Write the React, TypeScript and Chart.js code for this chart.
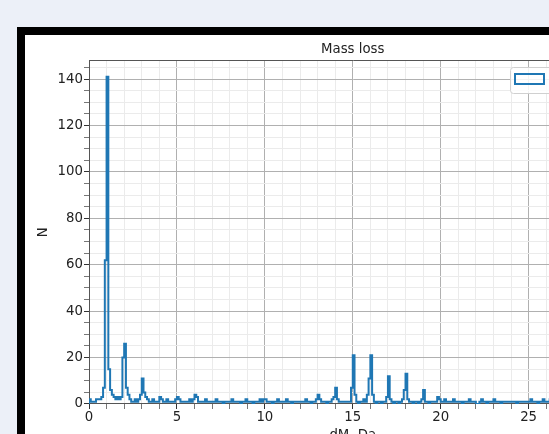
import React, { useEffect, useRef } from 'react';
import { Chart, registerables } from 'chart.js';

Chart.register(...registerables);

// ---- chart texts ----
const chartTitle = 'Mass loss';
const xTitle = 'dM, Da';
const yTitle = 'N';
const legendLabel = '';

// ---- histogram bins (0.1 Da wide, starting at 0) ----
const binStart = 0;
const binWidth = 0.1;

// counts per bin, grouped by 5 Da
const counts0to5 = [
  2, 1, 1, 1, 2, 2, 2, 3, 7, 62,
  141, 15, 6, 4, 3, 2, 3, 2, 3, 20,
  26, 7, 4, 2, 1, 1, 2, 1, 2, 4,
  11, 5, 3, 2, 1, 1, 2, 1, 1, 1,
  3, 2, 1, 1, 2, 1, 1, 1, 1, 2,
];
const counts5to10 = [
  3, 2, 1, 1, 1, 1, 1, 2, 1, 2,
  4, 3, 1, 1, 1, 1, 2, 1, 1, 1,
  1, 1, 2, 1, 1, 1, 0, 1, 1, 1,
  1, 2, 1, 1, 1, 1, 0, 1, 1, 2,
  1, 1, 1, 0, 1, 1, 1, 2, 1, 2,
];
const counts10to15 = [
  2, 1, 1, 1, 0, 1, 1, 2, 1, 1,
  1, 1, 2, 1, 1, 0, 1, 1, 1, 1,
  1, 1, 1, 2, 1, 1, 0, 1, 1, 2,
  4, 2, 1, 1, 1, 0, 1, 1, 2, 3,
  7, 2, 1, 1, 1, 1, 1, 1, 1, 7,
];
const counts15to20 = [
  21, 4, 1, 0, 1, 1, 2, 1, 4, 11,
  21, 4, 1, 0, 1, 1, 0, 1, 1, 3,
  12, 2, 1, 0, 1, 1, 0, 1, 2, 6,
  13, 2, 1, 1, 0, 1, 1, 0, 1, 2,
  6, 1, 1, 0, 1, 1, 1, 1, 3, 2,
];
const counts20to25 = [
  1, 1, 2, 1, 1, 1, 1, 2, 1, 1,
  1, 1, 0, 1, 1, 1, 2, 1, 1, 1,
  0, 0, 1, 2, 1, 1, 0, 1, 1, 1,
  2, 1, 1, 1, 0, 1, 1, 1, 1, 1,
  1, 1, 1, 0, 1, 1, 1, 1, 1, 1,
];
const counts25to27 = [
  1, 2, 1, 1, 1, 0, 1, 1, 2, 1,
  1, 1, 2, 1, 1, 1, 1, 1, 1, 1,
];

// ---- axes ----
const xMin = 0;
const xMax = 30;
const yMin = 0;
const yMax = 148.05;
const xMajorStep = 5;
const xMinorStep = 1;
const yMajorStep = 20;
const yMinorStep = 5;

const FONT = 'DejaVu Sans';
const FS = 13.3;
const LINE_COLOR = '#1f77b4';
const MAJOR_GRID = '#b0b0b0';
const MINOR_GRID = '#ebebeb';
const SPINE = '#555555';
const TEXT = '#222222';

const isMult = (v: number, step: number) => Math.abs(v / step - Math.round(v / step)) < 1e-6;

export default function App() {
  const ref = useRef<HTMLCanvasElement | null>(null);

  useEffect(() => {
    if (!ref.current) return;
    const counts = [
      ...counts0to5,
      ...counts5to10,
      ...counts10to15,
      ...counts15to20,
      ...counts20to25,
      ...counts25to27,
    ];
    const pts: { x: number; y: number }[] = [{ x: binStart, y: 0 }];
    counts.forEach((c, i) => pts.push({ x: +(binStart + i * binWidth).toFixed(3), y: c }));
    pts.push({ x: +(binStart + counts.length * binWidth).toFixed(3), y: 0 });

    const legendPlugin = {
      id: 'mplLegend',
      afterDatasetsDraw(chart: any) {
        const { ctx, chartArea } = chart;
        const ds = chart.data.datasets[0];
        const fw = 100;
        const fh = 26;
        const fx = Math.round(chartArea.right - 6.5 - fw) + 0.5;
        const fy = Math.round(chartArea.top + 7) + 0.5;
        ctx.save();
        ctx.beginPath();
        if ((ctx as any).roundRect) (ctx as any).roundRect(fx, fy, fw, fh, 3);
        else ctx.rect(fx, fy, fw, fh);
        ctx.fillStyle = 'rgba(255,255,255,0.85)';
        ctx.fill();
        ctx.strokeStyle = '#d0d0d0';
        ctx.lineWidth = 1;
        ctx.stroke();
        ctx.strokeStyle = ds.borderColor;
        ctx.lineWidth = 2;
        ctx.strokeRect(fx + 4.5, fy + 6.5, 29, 10);
        ctx.fillStyle = TEXT;
        ctx.font = `${FS}px "${FONT}"`;
        ctx.textBaseline = 'middle';
        ctx.fillText(legendLabel, fx + 44, fy + 11.5);
        ctx.restore();
      },
    };

    const chart = new Chart(ref.current, {
      type: 'line',
      data: {
        datasets: [
          {
            label: legendLabel,
            data: pts,
            stepped: true,
            borderColor: LINE_COLOR,
            backgroundColor: '#ffffff',
            borderWidth: 2,
            pointRadius: 0,
            fill: false,
            tension: 0,
          },
        ],
      },
      options: {
        responsive: false,
        maintainAspectRatio: false,
        animation: false,
        devicePixelRatio: 1,
        layout: { padding: 0 },
        plugins: {
          legend: { display: false },
          tooltip: { enabled: false },
          title: {
            display: true,
            text: chartTitle,
            fullSize: false,
            color: TEXT,
            font: { family: FONT, size: FS, weight: 'normal' },
            padding: { top: 7, bottom: 2.5 },
          },
        },
        scales: {
          x: {
            type: 'linear',
            min: xMin,
            max: xMax,
            afterBuildTicks: (s: any) => {
              const t = [];
              for (let v = xMin; v <= xMax + 1e-9; v += xMinorStep) t.push({ value: v });
              s.ticks = t;
            },
            afterFit: (s: any) => {
              s.height = 40;
            },
            ticks: {
              autoSkip: false,
              maxRotation: 0,
              padding: 1,
              color: TEXT,
              font: { family: FONT, size: FS },
              callback: (v: any) => (isMult(Number(v), xMajorStep) ? String(v) : ''),
            },
            grid: {
              color: (c: any) => (c.tick && isMult(c.tick.value, xMajorStep) ? MAJOR_GRID : MINOR_GRID),
              tickColor: (c: any) => (c.tick && isMult(c.tick.value, xMajorStep) ? '#333333' : '#777777'),
              tickLength: 5,
              lineWidth: 1,
            },
            border: { color: SPINE, width: 1 },
            title: {
              display: true,
              text: xTitle,
              color: TEXT,
              font: { family: FONT, size: FS },
              padding: { top: 0, bottom: 0 },
            },
          },
          y: {
            type: 'linear',
            min: yMin,
            max: yMax,
            afterBuildTicks: (s: any) => {
              const t = [];
              for (let v = yMin; v <= yMax; v += yMinorStep) t.push({ value: v });
              t.push({ value: yMax });
              s.ticks = t;
            },
            afterFit: (s: any) => {
              s.width = 64;
            },
            ticks: {
              autoSkip: false,
              padding: 1,
              color: TEXT,
              font: { family: FONT, size: FS },
              callback: (v: any) => (isMult(Number(v), yMajorStep) ? String(v) : ''),
            },
            grid: {
              color: (c: any) =>
                c.tick && c.tick.value === yMax
                  ? SPINE
                  : c.tick && isMult(c.tick.value, yMajorStep)
                  ? MAJOR_GRID
                  : MINOR_GRID,
              tickColor: (c: any) =>
                c.tick && c.tick.value === yMax
                  ? 'rgba(0,0,0,0)'
                  : c.tick && isMult(c.tick.value, yMajorStep)
                  ? '#333333'
                  : '#777777',
              tickLength: 5,
              lineWidth: 1,
            },
            border: { color: SPINE, width: 1 },
            title: {
              display: true,
              text: yTitle,
              color: TEXT,
              font: { family: FONT, size: FS },
              padding: { top: 11, bottom: 0 },
            },
          },
        },
      },
      plugins: [legendPlugin],
    } as any);

    return () => chart.destroy();
  }, []);

  return (
    <div
      style={{
        position: 'fixed',
        left: 0,
        top: 0,
        width: 549,
        height: 434,
        background: '#ecf0f8',
        overflow: 'hidden',
      }}
    >
      <div
        style={{
          position: 'absolute',
          left: 17,
          top: 27,
          width: 700,
          height: 500,
          border: '8px solid #000',
          background: '#ffffff',
        }}
      >
        <canvas
          ref={ref}
          width={601}
          height={409}
          style={{ position: 'absolute', left: 0, top: 0, display: 'block', width: 601, height: 409 }}
        />
      </div>
    </div>
  );
}
